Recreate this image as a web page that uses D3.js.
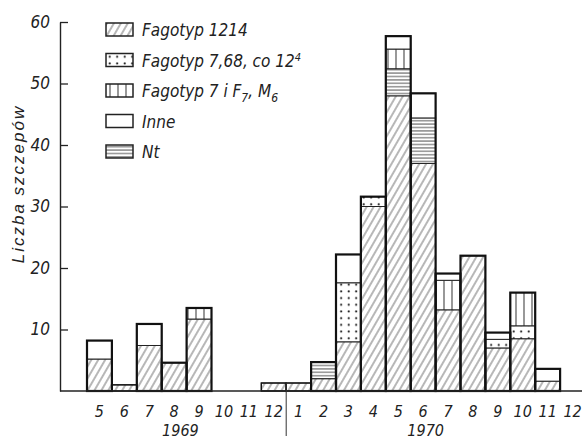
<!DOCTYPE html>
<html>
<head>
<meta charset="utf-8">
<script src="https://cdn.jsdelivr.net/npm/d3@7"></script>
<style>
  body { margin: 0; background: #fff; }
  svg text { fill: #222; font-style: italic; }
</style>
</head>
<body>
<div id="chart"></div>
<script>
// months shown along the x axis (1969: 5..12, 1970: 1..12)
const slots = ["1969-5","1969-6","1969-7","1969-8","1969-9","1969-10","1969-11","1969-12",
  "1970-1","1970-2","1970-3","1970-4","1970-5","1970-6","1970-7","1970-8","1970-9","1970-10","1970-11","1970-12"];
const monthLabels = ["5","6","7","8","9","10","11","12","1","2","3","4","5","6","7","8","9","10","11","12"];

// number of strains per group
const fag1214 = [5.2, 1, 7.4, 4.6, 11.7, 0, 0, 1.3, 1.3, 2, 8, 30, 48, 37, 13.2, 22, 7, 8.5, 1.6, 0];
const fag768  = [0, 0, 0, 0, 0, 0, 0, 0, 0, 0, 9.6, 1.6, 0, 0, 0, 0, 1.4, 2.1, 0, 0];
const nt      = [0, 0, 0, 0, 0, 0, 0, 0, 0, 2.7, 0, 0, 4.4, 7.4, 0, 0, 0, 0, 0, 0];
const fag7    = [0, 0, 0, 0, 1.8, 0, 0, 0, 0, 0, 0, 0, 3.2, 0, 4.8, 0, 0, 5.4, 0, 0];
const inne    = [3, 0, 3.5, 0, 0, 0, 0, 0, 0, 0, 4.6, 0, 2.1, 4, 1.1, 0, 1.1, 0, 2, 0];

const yTicks = [10, 20, 30, 40, 50, 60];

var width = 582, height = 440;
var svg = d3.select("#chart").append("svg")
  .attr("width", width)
  .attr("height", height);

var defs = svg.append("defs");

// hatch ////
var p = defs.append("pattern").attr("id", "hatch")
  .attr("patternUnits", "userSpaceOnUse").attr("width", 6).attr("height", 6)
  .attr("patternTransform", "rotate(30)");
p.append("rect").attr("width", 6).attr("height", 6).attr("fill", "#fff");
p.append("line").attr("x1", 1).attr("y1", 0).attr("x2", 1).attr("y2", 6)
  .attr("stroke", "#888").attr("stroke-width", 1.2);

// dots
p = defs.append("pattern").attr("id", "dots")
  .attr("patternUnits", "userSpaceOnUse").attr("width", 7.5).attr("height", 6.7);
p.append("rect").attr("width", 7.5).attr("height", 6.7).attr("fill", "#fff");
p.append("circle").attr("cx", 3.7).attr("cy", 3.3).attr("r", 1.1).attr("fill", "#222");

// vertical lines
p = defs.append("pattern").attr("id", "vlines")
  .attr("patternUnits", "userSpaceOnUse").attr("width", 8).attr("height", 8);
p.append("rect").attr("width", 8).attr("height", 8).attr("fill", "#fff");
p.append("line").attr("x1", 4).attr("y1", 0).attr("x2", 4).attr("y2", 8)
  .attr("stroke", "#444").attr("stroke-width", 1.1);

// horizontal lines
p = defs.append("pattern").attr("id", "hlines")
  .attr("patternUnits", "userSpaceOnUse").attr("width", 8).attr("height", 3.4);
p.append("rect").attr("width", 8).attr("height", 3.4).attr("fill", "#fff");
p.append("line").attr("x1", 0).attr("y1", 1.7).attr("x2", 8).attr("y2", 1.7)
  .attr("stroke", "#555").attr("stroke-width", 1);

const series = [
  {key: "fag1214", values: fag1214, fill: "url(#hatch)"},
  {key: "fag768", values: fag768, fill: "url(#dots)"},
  {key: "nt", values: nt, fill: "url(#hlines)"},
  {key: "fag7", values: fag7, fill: "url(#vlines)"},
  {key: "inne", values: inne, fill: "#fff"}
];

var table = slots.map((s, i) => {
  var row = {slot: s};
  series.forEach(se => row[se.key] = se.values[i]);
  return row;
});

var stacked = d3.stack().keys(series.map(s => s.key))(table);

var x = d3.scaleBand().domain(slots).range([87, 585]).padding(0);
var y = d3.scaleLinear().domain([0, 60]).range([391, 22]);

// segments
svg.selectAll(".layer")
  .data(stacked)
  .join("g")
  .attr("class", "layer")
  .attr("fill", (d, i) => series[i].fill)
  .selectAll("rect")
  .data(d => d.filter(v => v[1] - v[0] > 0))
  .join("rect")
  .attr("x", d => x(d.data.slot))
  .attr("width", x.bandwidth())
  .attr("y", d => y(d[1]))
  .attr("height", d => y(d[0]) - y(d[1]))
  .attr("stroke", "#222")
  .attr("stroke-width", 1);

// outline of each bar
var totals = table.map(r => ({slot: r.slot, total: d3.sum(series, s => r[s.key])}));
svg.selectAll(".bar")
  .data(totals.filter(d => d.total > 0))
  .join("rect")
  .attr("class", "bar")
  .attr("x", d => x(d.slot))
  .attr("width", x.bandwidth())
  .attr("y", d => y(d.total))
  .attr("height", d => y(0) - y(d.total))
  .attr("fill", "none")
  .attr("stroke", "#111")
  .attr("stroke-width", d => d.total > 2 ? 2.2 : 1.3);

// y axis
var yAxis = d3.axisLeft(y).tickValues(yTicks).tickSize(-8).tickSizeOuter(0).tickPadding(10);
var ga = svg.append("g").attr("transform", "translate(60,0)").call(yAxis);
ga.select(".domain").attr("stroke", "#222").attr("stroke-width", 1.4);
ga.selectAll(".tick line").attr("stroke", "#222").attr("stroke-width", 1.3);
ga.selectAll(".tick text")
  .attr("font-family", "'Liberation Sans Narrow', 'DejaVu Sans Condensed', 'Liberation Sans', sans-serif")
  .attr("font-size", 17).attr("fill", "#222");

// baseline
svg.append("line")
  .attr("x1", 60).attr("x2", 582).attr("y1", y(0)).attr("y2", y(0))
  .attr("stroke", "#222").attr("stroke-width", 1.4);

// year separator
svg.append("line")
  .attr("x1", x("1970-1")).attr("x2", x("1970-1"))
  .attr("y1", y(0) - 9).attr("y2", 436)
  .attr("stroke", "#333").attr("stroke-width", 1);

const labelFont = "'Liberation Sans Narrow', 'DejaVu Sans Condensed', 'Liberation Sans', sans-serif";

svg.selectAll(".month")
  .data(slots)
  .join("text")
  .attr("class", "month")
  .attr("x", d => x(d) + x.bandwidth() / 2)
  .attr("y", 417)
  .attr("text-anchor", "middle")
  .attr("font-family", labelFont)
  .attr("font-size", 16)
  .text((d, i) => monthLabels[i]);

svg.append("text")
  .attr("x", x("1969-8") + x.bandwidth() * 0.75).attr("y", 436)
  .attr("text-anchor", "middle").attr("font-family", labelFont).attr("font-size", 16)
  .text("1969");
svg.append("text")
  .attr("x", x("1970-6") + x.bandwidth() * 0.6).attr("y", 436)
  .attr("text-anchor", "middle").attr("font-family", labelFont).attr("font-size", 16)
  .text("1970");

// y title
svg.append("text")
  .attr("transform", "translate(24,184) rotate(-90)")
  .attr("text-anchor", "middle")
  .attr("font-family", "'Liberation Sans', sans-serif")
  .attr("font-size", 17)
  .attr("letter-spacing", 2)
  .text("Liczba szczepów");

// legend
var legend = svg.append("g").attr("transform", "translate(106,23)");
var legendOrder = ["fag1214", "fag768", "fag7", "inne", "nt"];
var items = legend.selectAll("g")
  .data(series)
  .join("g")
  .attr("transform", d => `translate(0,${legendOrder.indexOf(d.key) * 30.5})`);
items.append("rect")
  .attr("width", 27).attr("height", 13)
  .attr("fill", d => d.fill)
  .attr("stroke", "#222").attr("stroke-width", 1.5);

var lt = items.append("text")
  .attr("x", 36).attr("y", 13)
  .attr("font-family", labelFont)
  .attr("font-size", 17);

lt.filter(d => d.key == "fag1214").text("Fagotyp 1214");
var t2 = lt.filter(d => d.key == "fag768");
t2.append("tspan").text("Fagotyp 7,68, co 12");
t2.append("tspan").attr("dy", -6).attr("font-size", 11).text("4");
lt.filter(d => d.key == "nt").text("Nt");
var t3 = lt.filter(d => d.key == "fag7");
t3.append("tspan").text("Fagotyp 7 i F");
t3.append("tspan").attr("dy", 5).attr("font-size", 12).text("7");
t3.append("tspan").attr("dy", -5).text(", M");
t3.append("tspan").attr("dy", 5).attr("font-size", 12).text("6");
lt.filter(d => d.key == "inne").text("Inne");
</script>
</body>
</html>
